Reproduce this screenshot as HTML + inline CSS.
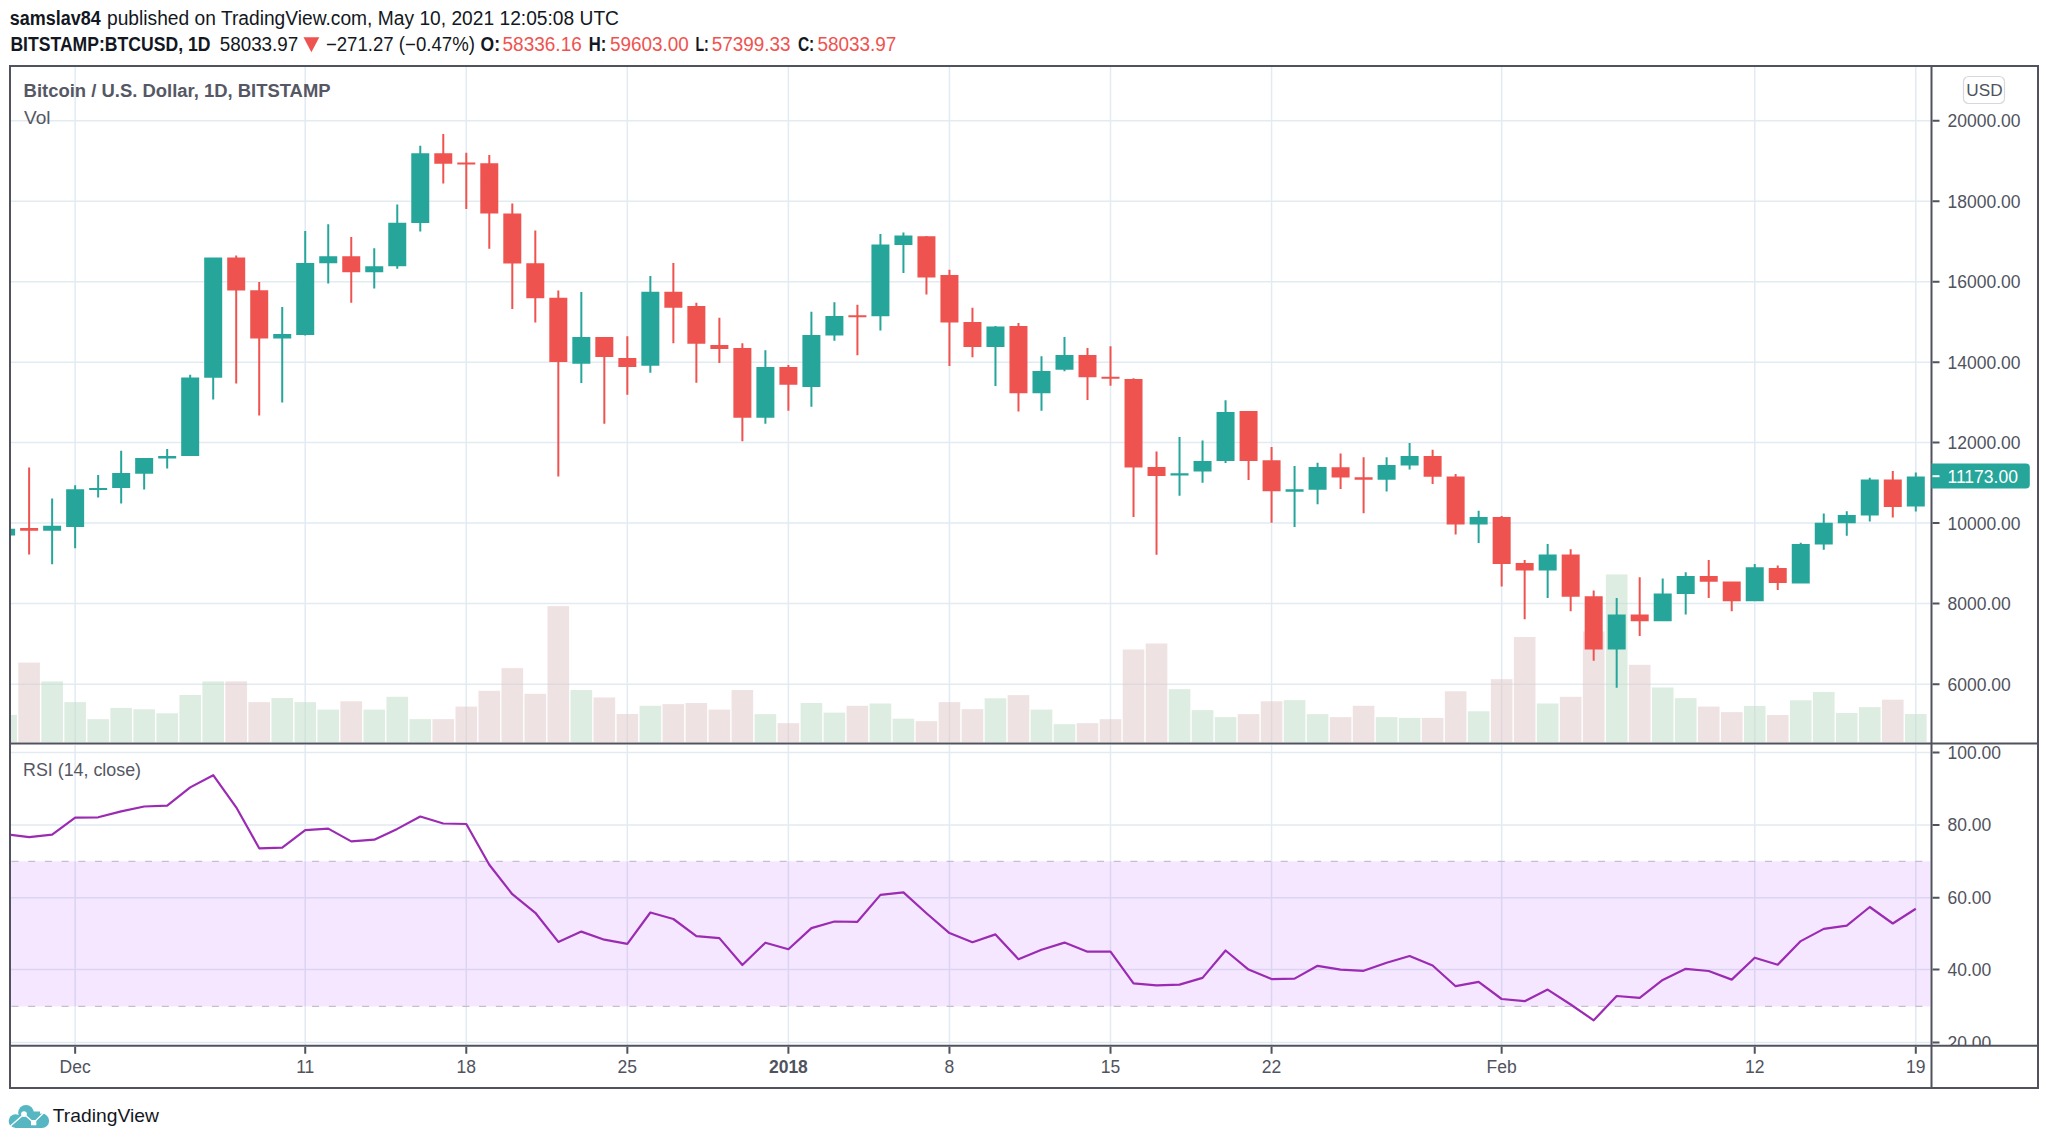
<!DOCTYPE html><html><head><meta charset="utf-8"><style>
html,body{margin:0;padding:0;background:#fff;width:2048px;height:1144px;overflow:hidden}
svg{display:block}
text{font-family:"Liberation Sans",sans-serif}
</style></head><body>
<svg width="2048" height="1144" viewBox="0 0 2048 1144">
<rect x="0" y="0" width="2048" height="1144" fill="#fff"/>
<defs><clipPath id="main"><rect x="11" y="67" width="1919.5" height="675.4"/></clipPath>
<clipPath id="rsi"><rect x="11" y="744.9" width="1919.5" height="299.9"/></clipPath>
</defs>
<path d="M75.15 67V742.4M75.15 744.9V1044.8M305.23 67V742.4M305.23 744.9V1044.8M466.29 67V742.4M466.29 744.9V1044.8M627.34 67V742.4M627.34 744.9V1044.8M788.4 67V742.4M788.4 744.9V1044.8M949.45 67V742.4M949.45 744.9V1044.8M1110.51 67V742.4M1110.51 744.9V1044.8M1271.57 67V742.4M1271.57 744.9V1044.8M1501.65 67V742.4M1501.65 744.9V1044.8M1754.73 67V742.4M1754.73 744.9V1044.8M1915.79 67V742.4M1915.79 744.9V1044.8M11 120.8H1930.5M11 201.3H1930.5M11 281.8H1930.5M11 362.3H1930.5M11 442.6H1930.5M11 523.1H1930.5M11 603.6H1930.5M11 684.2H1930.5" stroke="#e2ebf2" stroke-width="1.5" fill="none"/>
<g clip-path="url(#main)">
<rect x="-4.67" y="714.9" width="21.6" height="27.1" fill="#bddbc5" fill-opacity="0.5"/>
<rect x="18.33" y="662.6" width="21.6" height="79.4" fill="#dfc5c5" fill-opacity="0.5"/>
<rect x="41.34" y="681.4" width="21.6" height="60.6" fill="#bddbc5" fill-opacity="0.5"/>
<rect x="64.35" y="702.1" width="21.6" height="39.9" fill="#bddbc5" fill-opacity="0.5"/>
<rect x="87.36" y="719.2" width="21.6" height="22.8" fill="#bddbc5" fill-opacity="0.5"/>
<rect x="110.37" y="707.9" width="21.6" height="34.1" fill="#bddbc5" fill-opacity="0.5"/>
<rect x="133.37" y="709.3" width="21.6" height="32.7" fill="#bddbc5" fill-opacity="0.5"/>
<rect x="156.38" y="713.3" width="21.6" height="28.7" fill="#bddbc5" fill-opacity="0.5"/>
<rect x="179.39" y="695" width="21.6" height="47" fill="#bddbc5" fill-opacity="0.5"/>
<rect x="202.4" y="681.4" width="21.6" height="60.6" fill="#bddbc5" fill-opacity="0.5"/>
<rect x="225.41" y="681.4" width="21.6" height="60.6" fill="#dfc5c5" fill-opacity="0.5"/>
<rect x="248.41" y="702.1" width="21.6" height="39.9" fill="#dfc5c5" fill-opacity="0.5"/>
<rect x="271.42" y="698" width="21.6" height="44" fill="#bddbc5" fill-opacity="0.5"/>
<rect x="294.43" y="702.1" width="21.6" height="39.9" fill="#bddbc5" fill-opacity="0.5"/>
<rect x="317.44" y="709.6" width="21.6" height="32.4" fill="#bddbc5" fill-opacity="0.5"/>
<rect x="340.45" y="701.3" width="21.6" height="40.7" fill="#dfc5c5" fill-opacity="0.5"/>
<rect x="363.45" y="709.6" width="21.6" height="32.4" fill="#bddbc5" fill-opacity="0.5"/>
<rect x="386.46" y="696.8" width="21.6" height="45.2" fill="#bddbc5" fill-opacity="0.5"/>
<rect x="409.47" y="719.1" width="21.6" height="22.9" fill="#bddbc5" fill-opacity="0.5"/>
<rect x="432.48" y="719.1" width="21.6" height="22.9" fill="#dfc5c5" fill-opacity="0.5"/>
<rect x="455.49" y="706.6" width="21.6" height="35.4" fill="#dfc5c5" fill-opacity="0.5"/>
<rect x="478.49" y="690.8" width="21.6" height="51.2" fill="#dfc5c5" fill-opacity="0.5"/>
<rect x="501.5" y="668.1" width="21.6" height="73.9" fill="#dfc5c5" fill-opacity="0.5"/>
<rect x="524.51" y="693.8" width="21.6" height="48.2" fill="#dfc5c5" fill-opacity="0.5"/>
<rect x="547.52" y="606.1" width="21.6" height="135.9" fill="#dfc5c5" fill-opacity="0.5"/>
<rect x="570.53" y="690" width="21.6" height="52" fill="#bddbc5" fill-opacity="0.5"/>
<rect x="593.53" y="697.5" width="21.6" height="44.5" fill="#dfc5c5" fill-opacity="0.5"/>
<rect x="616.54" y="714" width="21.6" height="28" fill="#dfc5c5" fill-opacity="0.5"/>
<rect x="639.55" y="705.8" width="21.6" height="36.2" fill="#bddbc5" fill-opacity="0.5"/>
<rect x="662.56" y="704.1" width="21.6" height="37.9" fill="#dfc5c5" fill-opacity="0.5"/>
<rect x="685.57" y="703" width="21.6" height="39" fill="#dfc5c5" fill-opacity="0.5"/>
<rect x="708.57" y="709.6" width="21.6" height="32.4" fill="#dfc5c5" fill-opacity="0.5"/>
<rect x="731.58" y="690" width="21.6" height="52" fill="#dfc5c5" fill-opacity="0.5"/>
<rect x="754.59" y="714.1" width="21.6" height="27.9" fill="#bddbc5" fill-opacity="0.5"/>
<rect x="777.6" y="723.2" width="21.6" height="18.8" fill="#dfc5c5" fill-opacity="0.5"/>
<rect x="800.61" y="703" width="21.6" height="39" fill="#bddbc5" fill-opacity="0.5"/>
<rect x="823.61" y="712.6" width="21.6" height="29.4" fill="#bddbc5" fill-opacity="0.5"/>
<rect x="846.62" y="705.8" width="21.6" height="36.2" fill="#dfc5c5" fill-opacity="0.5"/>
<rect x="869.63" y="703.5" width="21.6" height="38.5" fill="#bddbc5" fill-opacity="0.5"/>
<rect x="892.64" y="718.7" width="21.6" height="23.3" fill="#bddbc5" fill-opacity="0.5"/>
<rect x="915.65" y="721.2" width="21.6" height="20.8" fill="#dfc5c5" fill-opacity="0.5"/>
<rect x="938.65" y="702.1" width="21.6" height="39.9" fill="#dfc5c5" fill-opacity="0.5"/>
<rect x="961.66" y="709.1" width="21.6" height="32.9" fill="#dfc5c5" fill-opacity="0.5"/>
<rect x="984.67" y="698.3" width="21.6" height="43.7" fill="#bddbc5" fill-opacity="0.5"/>
<rect x="1007.68" y="695.1" width="21.6" height="46.9" fill="#dfc5c5" fill-opacity="0.5"/>
<rect x="1030.69" y="709.6" width="21.6" height="32.4" fill="#bddbc5" fill-opacity="0.5"/>
<rect x="1053.69" y="724.2" width="21.6" height="17.8" fill="#bddbc5" fill-opacity="0.5"/>
<rect x="1076.7" y="723.2" width="21.6" height="18.8" fill="#dfc5c5" fill-opacity="0.5"/>
<rect x="1099.71" y="719.2" width="21.6" height="22.8" fill="#dfc5c5" fill-opacity="0.5"/>
<rect x="1122.72" y="649.5" width="21.6" height="92.5" fill="#dfc5c5" fill-opacity="0.5"/>
<rect x="1145.73" y="643.5" width="21.6" height="98.5" fill="#dfc5c5" fill-opacity="0.5"/>
<rect x="1168.73" y="689.2" width="21.6" height="52.8" fill="#bddbc5" fill-opacity="0.5"/>
<rect x="1191.74" y="710.1" width="21.6" height="31.9" fill="#bddbc5" fill-opacity="0.5"/>
<rect x="1214.75" y="717.1" width="21.6" height="24.9" fill="#bddbc5" fill-opacity="0.5"/>
<rect x="1237.76" y="714.1" width="21.6" height="27.9" fill="#dfc5c5" fill-opacity="0.5"/>
<rect x="1260.77" y="701.3" width="21.6" height="40.7" fill="#dfc5c5" fill-opacity="0.5"/>
<rect x="1283.77" y="700.1" width="21.6" height="41.9" fill="#bddbc5" fill-opacity="0.5"/>
<rect x="1306.78" y="714.1" width="21.6" height="27.9" fill="#bddbc5" fill-opacity="0.5"/>
<rect x="1329.79" y="717.1" width="21.6" height="24.9" fill="#dfc5c5" fill-opacity="0.5"/>
<rect x="1352.8" y="705.8" width="21.6" height="36.2" fill="#dfc5c5" fill-opacity="0.5"/>
<rect x="1375.81" y="717.1" width="21.6" height="24.9" fill="#bddbc5" fill-opacity="0.5"/>
<rect x="1398.81" y="717.9" width="21.6" height="24.1" fill="#bddbc5" fill-opacity="0.5"/>
<rect x="1421.82" y="717.9" width="21.6" height="24.1" fill="#dfc5c5" fill-opacity="0.5"/>
<rect x="1444.83" y="691.3" width="21.6" height="50.7" fill="#dfc5c5" fill-opacity="0.5"/>
<rect x="1467.84" y="711.3" width="21.6" height="30.7" fill="#bddbc5" fill-opacity="0.5"/>
<rect x="1490.85" y="679.2" width="21.6" height="62.8" fill="#dfc5c5" fill-opacity="0.5"/>
<rect x="1513.85" y="637" width="21.6" height="105" fill="#dfc5c5" fill-opacity="0.5"/>
<rect x="1536.86" y="703.5" width="21.6" height="38.5" fill="#bddbc5" fill-opacity="0.5"/>
<rect x="1559.87" y="696.8" width="21.6" height="45.2" fill="#dfc5c5" fill-opacity="0.5"/>
<rect x="1582.88" y="631.5" width="21.6" height="110.5" fill="#dfc5c5" fill-opacity="0.5"/>
<rect x="1605.89" y="574.4" width="21.6" height="167.6" fill="#bddbc5" fill-opacity="0.5"/>
<rect x="1628.89" y="664.8" width="21.6" height="77.2" fill="#dfc5c5" fill-opacity="0.5"/>
<rect x="1651.9" y="687.5" width="21.6" height="54.5" fill="#bddbc5" fill-opacity="0.5"/>
<rect x="1674.91" y="698.1" width="21.6" height="43.9" fill="#bddbc5" fill-opacity="0.5"/>
<rect x="1697.92" y="706.6" width="21.6" height="35.4" fill="#dfc5c5" fill-opacity="0.5"/>
<rect x="1720.93" y="712.1" width="21.6" height="29.9" fill="#dfc5c5" fill-opacity="0.5"/>
<rect x="1743.93" y="705.9" width="21.6" height="36.1" fill="#bddbc5" fill-opacity="0.5"/>
<rect x="1766.94" y="715" width="21.6" height="27" fill="#dfc5c5" fill-opacity="0.5"/>
<rect x="1789.95" y="700.3" width="21.6" height="41.7" fill="#bddbc5" fill-opacity="0.5"/>
<rect x="1812.96" y="692" width="21.6" height="50" fill="#bddbc5" fill-opacity="0.5"/>
<rect x="1835.97" y="713" width="21.6" height="29" fill="#bddbc5" fill-opacity="0.5"/>
<rect x="1858.97" y="707.1" width="21.6" height="34.9" fill="#bddbc5" fill-opacity="0.5"/>
<rect x="1881.98" y="699.7" width="21.6" height="42.3" fill="#dfc5c5" fill-opacity="0.5"/>
<rect x="1904.99" y="714" width="21.6" height="28" fill="#bddbc5" fill-opacity="0.5"/>
<path d="M-2.87 528.7h18v6.8h-18zM43.14 525.7h18v5.1h-18zM51.14 498.5h2v27.2h-2zM51.14 530.8h2v33.4h-2zM66.15 489.2h18v37.7h-18zM74.15 485.3h2v3.9h-2zM74.15 526.9h2v21.4h-2zM89.16 488.1h18v2h-18zM97.16 475.1h2v13h-2zM97.16 490.1h2v7.4h-2zM112.17 473h18v15.1h-18zM120.17 450.8h2v22.2h-2zM120.17 488.1h2v15.5h-2zM135.17 458.1h18v15.6h-18zM143.17 473.7h2v15.9h-2zM158.18 455.9h18v2.7h-18zM166.18 448.9h2v7h-2zM166.18 458.6h2v9.8h-2zM181.19 377.5h18v78.6h-18zM189.19 374.7h2v2.8h-2zM204.2 257.5h18v120.2h-18zM212.2 377.7h2v21.9h-2zM273.22 334h18v4.5h-18zM281.22 307h2v27h-2zM281.22 338.5h2v64.1h-2zM296.23 262.9h18v72h-18zM304.23 231h2v31.9h-2zM304.23 334.9h2v0.6h-2zM319.24 256.2h18v7h-18zM327.24 224.3h2v31.9h-2zM327.24 263.2h2v20.4h-2zM365.25 266.2h18v6.1h-18zM373.25 248.2h2v18h-2zM373.25 272.3h2v16.3h-2zM388.26 222.7h18v43.5h-18zM396.26 204.4h2v18.3h-2zM396.26 266.2h2v2.5h-2zM411.27 153.2h18v69.8h-18zM419.27 145.7h2v7.5h-2zM419.27 223h2v8.6h-2zM572.33 337.1h18v26.6h-18zM580.33 292h2v45.1h-2zM580.33 363.7h2v19.4h-2zM641.35 291.7h18v74h-18zM649.35 275.9h2v15.8h-2zM649.35 365.7h2v7.1h-2zM756.39 367.1h18v50.7h-18zM764.39 350.2h2v16.9h-2zM764.39 417.8h2v5.9h-2zM802.41 334.9h18v52.2h-18zM810.41 311.7h2v23.2h-2zM810.41 387.1h2v19.7h-2zM825.41 316h18v19.4h-18zM833.41 302.2h2v13.8h-2zM833.41 335.4h2v5.3h-2zM871.43 244.6h18v71.7h-18zM879.43 234.1h2v10.5h-2zM879.43 316.3h2v14.1h-2zM894.44 235.4h18v9.5h-18zM902.44 232.4h2v3h-2zM902.44 244.9h2v28.2h-2zM986.47 326.6h18v20.4h-18zM994.47 326h2v0.6h-2zM994.47 347h2v39.1h-2zM1032.49 371.1h18v22.1h-18zM1040.49 356.2h2v14.9h-2zM1040.49 393.2h2v17.5h-2zM1055.49 355h18v14.8h-18zM1063.49 337.1h2v17.9h-2zM1063.49 369.8h2v1.5h-2zM1170.53 473.2h18v2.3h-18zM1178.53 437h2v36.2h-2zM1178.53 475.5h2v20.3h-2zM1193.54 461h18v10.5h-18zM1201.54 440.6h2v20.4h-2zM1201.54 471.5h2v11.3h-2zM1216.55 411.9h18v49.1h-18zM1224.55 400.2h2v11.7h-2zM1224.55 461h2v2h-2zM1285.57 489.2h18v2.5h-18zM1293.57 466.1h2v23.1h-2zM1293.57 491.7h2v35.4h-2zM1308.58 466.9h18v22.8h-18zM1316.58 462.8h2v4.1h-2zM1316.58 489.7h2v14.5h-2zM1377.61 465.1h18v14.6h-18zM1385.61 457.3h2v7.8h-2zM1385.61 479.7h2v11.7h-2zM1400.61 456.1h18v9.5h-18zM1408.61 442.9h2v13.2h-2zM1408.61 465.6h2v3.8h-2zM1469.64 517.1h18v7.5h-18zM1477.64 510.8h2v6.3h-2zM1477.64 524.6h2v18.3h-2zM1538.66 554.5h18v16.1h-18zM1546.66 544h2v10.5h-2zM1546.66 570.6h2v27.4h-2zM1607.69 614.6h18v34.9h-18zM1615.69 598h2v16.6h-2zM1615.69 649.5h2v38.2h-2zM1653.7 593.4h18v27.9h-18zM1661.7 578.4h2v15h-2zM1676.71 576.1h18v17.8h-18zM1684.71 572.3h2v3.8h-2zM1684.71 593.9h2v20.7h-2zM1745.73 567.3h18v34h-18zM1753.73 564h2v3.3h-2zM1791.75 543.9h18v39.7h-18zM1799.75 542.8h2v1.1h-2zM1814.76 522.8h18v21.7h-18zM1822.76 513.4h2v9.4h-2zM1822.76 544.5h2v5.3h-2zM1837.77 515.1h18v8.1h-18zM1845.77 511.3h2v3.8h-2zM1845.77 523.2h2v12.6h-2zM1860.77 479.4h18v36.1h-18zM1868.77 477.8h2v1.6h-2zM1868.77 515.5h2v6h-2zM1906.79 476.4h18v30h-18zM1914.79 472.4h2v4h-2zM1914.79 506.4h2v5.2h-2z" fill="#26a69a"/>
<path d="M20.13 528.1h18v2.7h-18zM28.13 467.5h2v60.6h-2zM28.13 530.8h2v23.6h-2zM227.21 257.5h18v33.1h-18zM235.21 255.4h2v2.1h-2zM235.21 290.6h2v92.9h-2zM250.21 290.3h18v48.2h-18zM258.21 282h2v8.3h-2zM258.21 338.5h2v76.9h-2zM342.25 256.2h18v16.1h-18zM350.25 237.1h2v19.1h-2zM350.25 272.3h2v30.4h-2zM434.28 153.2h18v10.5h-18zM442.28 134.1h2v19.1h-2zM442.28 163.7h2v19.9h-2zM457.29 162.4h18v2.1h-18zM465.29 152.7h2v9.7h-2zM465.29 164.5h2v44.4h-2zM480.29 163.3h18v50.3h-18zM488.29 155h2v8.3h-2zM488.29 213.6h2v35.2h-2zM503.3 213.6h18v49.9h-18zM511.3 203.5h2v10.1h-2zM511.3 263.5h2v45.5h-2zM526.31 263.3h18v34.9h-18zM534.31 230.6h2v32.7h-2zM534.31 298.2h2v24.2h-2zM549.32 297.8h18v64.2h-18zM557.32 290.4h2v7.4h-2zM557.32 362h2v114.6h-2zM595.33 337.1h18v19.8h-18zM603.33 336.9h2v0.2h-2zM603.33 356.9h2v66.9h-2zM618.34 357.9h18v9.1h-18zM626.34 336.3h2v21.6h-2zM626.34 367h2v27.8h-2zM664.36 291.7h18v16.1h-18zM672.36 263h2v28.7h-2zM672.36 307.8h2v35.5h-2zM687.37 306.1h18v37.7h-18zM695.37 302.8h2v3.3h-2zM695.37 343.8h2v39h-2zM710.37 344.9h18v4.2h-18zM718.37 317.8h2v27.1h-2zM718.37 349.1h2v13.8h-2zM733.38 347.9h18v69.8h-18zM741.38 343.3h2v4.6h-2zM741.38 417.7h2v23.6h-2zM779.4 367.1h18v17.7h-18zM787.4 364.9h2v2.2h-2zM787.4 384.8h2v25.9h-2zM848.42 315.3h18v2h-18zM856.42 304.7h2v10.6h-2zM856.42 317.3h2v38h-2zM917.45 236.2h18v41.4h-18zM925.45 236h2v0.2h-2zM925.45 277.6h2v16.8h-2zM940.45 275.1h18v47.5h-18zM948.45 269.8h2v5.3h-2zM948.45 322.6h2v43.5h-2zM963.46 322.1h18v24.9h-18zM971.46 307.7h2v14.4h-2zM971.46 347h2v10.3h-2zM1009.48 326h18v67.2h-18zM1017.48 323h2v3h-2zM1017.48 393.2h2v18.3h-2zM1078.5 355h18v22.2h-18zM1086.5 347.9h2v7.1h-2zM1086.5 377.2h2v22.7h-2zM1101.51 376.8h18v2h-18zM1109.51 346.2h2v30.6h-2zM1109.51 378.8h2v6.9h-2zM1124.52 379.1h18v88.5h-18zM1132.52 378.3h2v0.8h-2zM1132.52 467.6h2v49.4h-2zM1147.53 467.1h18v9h-18zM1155.53 451.5h2v15.6h-2zM1155.53 476.1h2v78.7h-2zM1239.56 411h18v50h-18zM1247.56 461h2v19h-2zM1262.57 460.2h18v31.1h-18zM1270.57 447.1h2v13.1h-2zM1270.57 491.3h2v31.4h-2zM1331.59 467.3h18v10.3h-18zM1339.59 453.5h2v13.8h-2zM1339.59 477.6h2v11.3h-2zM1354.6 477.2h18v2.5h-18zM1362.6 457.3h2v19.9h-2zM1362.6 479.7h2v33.6h-2zM1423.62 456.1h18v20.6h-18zM1431.62 449.8h2v6.3h-2zM1431.62 476.7h2v7.2h-2zM1446.63 476.4h18v48.2h-18zM1454.63 473.9h2v2.5h-2zM1454.63 524.6h2v10h-2zM1492.65 517.1h18v46.9h-18zM1500.65 516.1h2v1h-2zM1500.65 564h2v22.4h-2zM1515.65 563.1h18v7.5h-18zM1523.65 560.1h2v3h-2zM1523.65 570.6h2v48.7h-2zM1561.67 554.5h18v42.3h-18zM1569.67 549.3h2v5.2h-2zM1569.67 596.8h2v14.5h-2zM1584.68 596.3h18v53.2h-18zM1592.68 590.5h2v5.8h-2zM1592.68 649.5h2v11.3h-2zM1630.69 614.6h18v6.7h-18zM1638.69 577.2h2v37.4h-2zM1638.69 621.3h2v14.6h-2zM1699.72 576.1h18v5.6h-18zM1707.72 560.1h2v16h-2zM1707.72 581.7h2v16.3h-2zM1722.73 581.4h18v19.9h-18zM1730.73 601.3h2v10h-2zM1768.74 568h18v15h-18zM1776.74 565.5h2v2.5h-2zM1776.74 583h2v7h-2zM1883.78 479.4h18v27.7h-18zM1891.78 471h2v8.4h-2zM1891.78 507.1h2v10.5h-2z" fill="#ef5350"/>
</g>
<g clip-path="url(#rsi)">
<path d="M11 752.6H1930.5M11 824.9H1930.5M11 897.7H1930.5M11 969.6H1930.5M11 1042.6H1930.5" stroke="#e2ebf2" stroke-width="1.5" fill="none"/>
<rect x="11" y="861.3" width="1919.5" height="145.1" fill="#9a15ff" fill-opacity="0.1"/>
<path d="M11.5 861.3H1924M11.5 1006.4H1924" stroke="#c4bfca" stroke-width="1.2" stroke-dasharray="7 9.7" fill="none"/>
<polyline points="10,834.7 29.13,837.2 52.14,834.7 75.15,817.6 98.16,817.3 121.17,811.4 144.17,806.5 167.18,805.6 190.19,787.4 213.2,775.2 236.21,807.3 259.21,848.3 282.22,847.7 305.23,830.2 328.24,828.6 351.25,841.4 374.25,839.7 397.26,828.9 420.27,816.5 443.28,823.5 466.29,824.0 489.29,864.7 512.3,894.2 535.31,912.8 558.32,941.9 581.33,931.6 604.33,939.7 627.34,943.9 650.35,912.5 673.36,919.0 696.37,936.1 719.37,938.1 742.38,965.0 765.39,942.7 788.4,949.2 811.41,928.1 834.41,921.5 857.42,921.8 880.43,894.9 903.44,892.4 926.45,913.2 949.45,933.1 972.46,942.2 995.47,934.4 1018.48,959.2 1041.49,949.7 1064.49,942.6 1087.5,951.7 1110.51,951.7 1133.52,983.3 1156.53,985.4 1179.53,984.6 1202.54,977.9 1225.55,950.5 1248.56,969.6 1271.57,979.1 1294.57,978.6 1317.58,965.8 1340.59,969.6 1363.6,970.8 1386.61,962.7 1409.61,956.0 1432.62,965.5 1455.63,986.2 1478.64,981.8 1501.65,999.0 1524.65,1001.2 1547.66,989.6 1570.67,1004.5 1593.68,1020.3 1616.69,996.0 1639.69,997.9 1662.7,979.9 1685.71,968.8 1708.72,971.0 1731.73,979.6 1754.73,957.7 1777.74,964.7 1800.75,941.1 1823.76,928.9 1846.77,925.6 1869.77,907.0 1892.78,923.5 1915.79,908.7" fill="none" stroke="#9b2bb2" stroke-width="2.2" stroke-linejoin="round"/>
</g>
<rect x="10" y="66" width="2028" height="1022" fill="none" stroke="#50535e" stroke-width="2"/>
<path d="M1931.5 66V1088" stroke="#50535e" stroke-width="2"/>
<path d="M10 743.4H2038" stroke="#50535e" stroke-width="2"/>
<path d="M10 1045.8H2038" stroke="#50535e" stroke-width="2"/>
<path d="M1932.5 120.8h7M1932.5 201.3h7M1932.5 281.8h7M1932.5 362.3h7M1932.5 442.6h7M1932.5 523.1h7M1932.5 603.6h7M1932.5 684.2h7M1932.5 752.6h7M1932.5 824.9h7M1932.5 897.7h7M1932.5 969.6h7M1932.5 1042.6h7" stroke="#50535e" stroke-width="2"/>
<clipPath id="ax"><rect x="1933" y="67" width="104" height="978"/></clipPath>
<g clip-path="url(#ax)" fill="#50535e" font-size="17.5">
<text x="1947.5" y="127.2">20000.00</text>
<text x="1947.5" y="207.7">18000.00</text>
<text x="1947.5" y="288.2">16000.00</text>
<text x="1947.5" y="368.7">14000.00</text>
<text x="1947.5" y="449">12000.00</text>
<text x="1947.5" y="529.5">10000.00</text>
<text x="1947.5" y="610">8000.00</text>
<text x="1947.5" y="690.6">6000.00</text>
<text x="1947.5" y="759">100.00</text>
<text x="1947.5" y="831.3">80.00</text>
<text x="1947.5" y="904.1">60.00</text>
<text x="1947.5" y="976">40.00</text>
<text x="1947.5" y="1049">20.00</text>
</g>
<path d="M1931.5 463.6H2025.8a4 4 0 0 1 4 4V484.5a4 4 0 0 1 -4 4H1931.5z" fill="#26a69a"/>
<path d="M1932.5 476.2h7" stroke="#fff" stroke-width="2"/>
<text x="1947.5" y="482.6" font-size="17.5" fill="#fff">11173.00</text>
<rect x="1963.5" y="76.5" width="41" height="27" rx="5" fill="#fff" stroke="#d6d8dd" stroke-width="1.2"/>
<text x="1984.5" y="96" font-size="17.2" fill="#50535e" text-anchor="middle">USD</text>
<path d="M75.15 1046.8v7M305.23 1046.8v7M466.29 1046.8v7M627.34 1046.8v7M788.4 1046.8v7M949.45 1046.8v7M1110.51 1046.8v7M1271.57 1046.8v7M1501.65 1046.8v7M1754.73 1046.8v7M1915.79 1046.8v7" stroke="#50535e" stroke-width="2"/>
<g fill="#50535e" font-size="17.5" text-anchor="middle">
<text x="75.15" y="1073.3">Dec</text>
<text x="305.23" y="1073.3">11</text>
<text x="466.29" y="1073.3">18</text>
<text x="627.34" y="1073.3">25</text>
<text x="788.4" y="1073.3" font-weight="bold">2018</text>
<text x="949.45" y="1073.3">8</text>
<text x="1110.51" y="1073.3">15</text>
<text x="1271.57" y="1073.3">22</text>
<text x="1501.65" y="1073.3">Feb</text>
<text x="1754.73" y="1073.3">12</text>
<text x="1915.79" y="1073.3">19</text>
</g>
<text x="23.6" y="97.4" font-size="17.5" font-weight="bold" fill="#555864" textLength="307" lengthAdjust="spacingAndGlyphs">Bitcoin / U.S. Dollar, 1D, BITSTAMP</text>
<text x="24" y="123.6" font-size="19" fill="#555864" textLength="26.5" lengthAdjust="spacingAndGlyphs">Vol</text>
<text x="10" y="99" font-size="0"></text>
<text x="23" y="776" font-size="17.5" fill="#555864" textLength="118" lengthAdjust="spacingAndGlyphs">RSI (14, close)</text>
<g fill="#131722" font-size="19.5">
<text x="9.8" y="25.3" font-weight="bold" textLength="91" lengthAdjust="spacingAndGlyphs">samslav84</text>
<text x="107" y="25.3" textLength="512" lengthAdjust="spacingAndGlyphs">published on TradingView.com, May 10, 2021 12:05:08 UTC</text>
<text x="10.4" y="51" font-weight="bold" textLength="200" lengthAdjust="spacingAndGlyphs">BITSTAMP:BTCUSD, 1D</text>
<text x="219.7" y="51" textLength="78.6" lengthAdjust="spacingAndGlyphs">58033.97</text>
<path d="M303.5 37.3H319.3L311.4 52.3z" fill="#ef5350"/>
<text x="325.9" y="51" textLength="149" lengthAdjust="spacingAndGlyphs">−271.27 (−0.47%)</text>
<text x="480.5" y="51" font-weight="bold" textLength="19.5" lengthAdjust="spacingAndGlyphs">O:</text>
<text x="502.5" y="51" fill="#ef5350" textLength="79.3" lengthAdjust="spacingAndGlyphs">58336.16</text>
<text x="588.7" y="51" font-weight="bold" textLength="17.6" lengthAdjust="spacingAndGlyphs">H:</text>
<text x="609.9" y="51" fill="#ef5350" textLength="78.9" lengthAdjust="spacingAndGlyphs">59603.00</text>
<text x="695.4" y="51" font-weight="bold" textLength="13.4" lengthAdjust="spacingAndGlyphs">L:</text>
<text x="711.7" y="51" fill="#ef5350" textLength="78.9" lengthAdjust="spacingAndGlyphs">57399.33</text>
<text x="797.9" y="51" font-weight="bold" textLength="16.4" lengthAdjust="spacingAndGlyphs">C:</text>
<text x="817.4" y="51" fill="#ef5350" textLength="78.9" lengthAdjust="spacingAndGlyphs">58033.97</text>
</g>
<g fill="#56b6c2">
<circle cx="15.5" cy="1121" r="6.8"/><circle cx="26" cy="1112.8" r="7.8"/><circle cx="41.8" cy="1120.8" r="7.3"/><rect x="15" y="1115" width="27" height="13"/><rect x="30" y="1111.5" width="10" height="8"/>
</g>
<path d="M10.5 1126L24 1114.2L33.6 1122.6L43.5 1113" stroke="#fff" stroke-width="1.3" fill="none"/>
<circle cx="24" cy="1114.1" r="2.9" fill="#fff"/><rect x="31" y="1120" width="5.3" height="5.3" fill="#fff"/>
<text x="52.8" y="1122.2" font-size="19" fill="#131722" textLength="106" lengthAdjust="spacingAndGlyphs">TradingView</text>
</svg></body></html>
